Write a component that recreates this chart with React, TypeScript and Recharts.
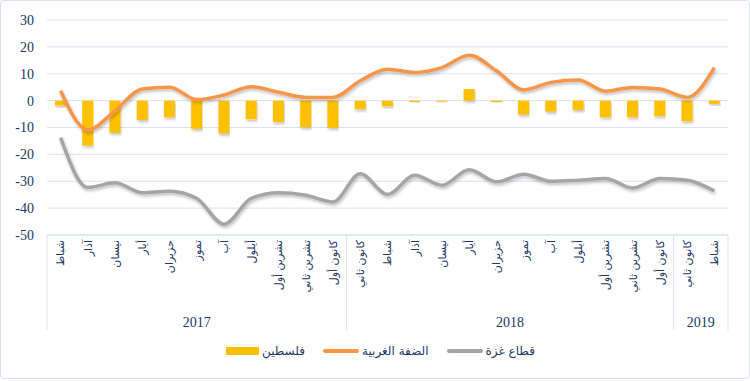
import React from "react";
import {
  ComposedChart,
  Bar,
  Line,
  XAxis,
  YAxis,
  CartesianGrid,
} from "recharts";

// month labels (Feb 2017 .. Feb 2019)
const months = [
  "شباط", "آذار", "نيسان", "أيار", "حزيران", "تموز", "آب", "أيلول",
  "تشرين أول", "تشرين ثاني", "كانون أول",
  "كانون ثاني", "شباط", "آذار", "نيسان", "أيار", "حزيران", "تموز", "آب",
  "أيلول", "تشرين أول", "تشرين ثاني", "كانون أول",
  "كانون ثاني", "شباط",
];

const years = [
  { label: "2017", count: 11 },
  { label: "2018", count: 12 },
  { label: "2019", count: 2 },
];

const palestine = [
  -1.8, -16.7, -12, -7.2, -6.2, -10.5, -12.3, -6.9, -8, -9.9, -10.1,
  -3.2, -2.1, -0.5, -0.4, 4.3, -0.5, -5.2, -4.1, -3.5, -6.2, -6.2, -5.8,
  -7.7, -1.2,
];

const westBank = [
  3.7, -10.9, -3.7, 4.3, 5, 0.4, 2.1, 5.2, 3.1, 1.2, 1.2,
  7.4, 11.7, 10.5, 12.3, 16.9, 11.1, 4, 6.8, 7.7, 3.5, 4.9, 4.3,
  1.2, 12.3,
];

const gaza = [
  -13.8, -32.3, -30.6, -34.3, -33.7, -36.4, -46, -36.4, -34.3, -35.2, -37.7,
  -27.2, -34.9, -27.8, -31.5, -25.7, -30.2, -27.4, -30, -29.6, -29, -32.5, -29,
  -29.6, -33.6,
];

const yTicks = [-50, -40, -30, -20, -10, 0, 10, 20, 30];

const series = [
  { key: "palestine", name: "فلسطين", color: "#FFC000", kind: "bar" },
  { key: "westBank", name: "الضفة الغربية", color: "#F79646", kind: "line" },
  { key: "gaza", name: "قطاع غزة", color: "#A5A5A5", kind: "line" },
];

const data = months.map((m, i) => ({
  month: m,
  palestine: palestine[i],
  westBank: westBank[i],
  gaza: gaza[i],
}));

const W = 750;
const H = 381;
const LEFT = 47;
const RIGHT = 22;
const PLOT_W = W - LEFT - RIGHT;
const BAND = PLOT_W / months.length;
const TEXT = "#203864";
const GRID = "#d9e3f1";

// index where each year group starts
const groupStarts: Record<number, { label: string; count: number }> = {};
let acc = 0;
years.forEach((y) => {
  groupStarts[acc] = y;
  acc += y.count;
});

const MonthTick = (props: any) => {
  const { x, y, payload, index } = props;
  const top = y - 5;
  const group = groupStarts[index];
  const left = x - BAND / 2;
  return (
    <g>
      <text
        x={x}
        y={y}
        transform={`rotate(-90, ${x}, ${y})`}
        textAnchor="end"
        dy="0.35em"
        fill={TEXT}
        fontSize={11}
        fontFamily="DejaVu Sans, sans-serif"
      >
        {payload.value}
      </text>
      {group && (
        <>
          <line x1={left} x2={left} y1={top} y2={top + 95} stroke={GRID} />
          <text
            x={left + (group.count * BAND) / 2}
            y={top + 92}
            textAnchor="middle"
            fill={TEXT}
            fontSize={14}
            fontFamily="Liberation Serif, serif"
          >
            {group.label}
          </text>
        </>
      )}
      {index === months.length - 1 && (
        <line x1={x + BAND / 2} x2={x + BAND / 2} y1={top} y2={top + 95} stroke={GRID} />
      )}
    </g>
  );
};

const LegendBox = () => (
  <div
    style={{
      position: "absolute",
      top: 343,
      left: 225,
      display: "flex",
      alignItems: "center",
      fontFamily: "DejaVu Sans, sans-serif",
      fontSize: 12,
      color: TEXT,
    }}
  >
    {series.map((s) => (
      <div key={s.key} style={{ display: "flex", alignItems: "center", marginRight: 18 }}>
        <div
          style={{
            width: s.kind === "bar" ? 33 : 36,
            height: s.kind === "bar" ? 8 : 4,
            borderRadius: s.kind === "bar" ? 0 : 2,
            background: s.color,
            marginRight: 3,
          }}
        />
        <span>{s.name}</span>
      </div>
    ))}
  </div>
);

export default function App() {
  return (
    <div
      style={{
        position: "absolute",
        left: 0,
        top: 0,
        width: W - 2,
        height: H - 4,
        border: "1px solid #d6e0ef",
        borderRadius: 4,
        background: "#fff",
        overflow: "hidden",
      }}
    >
      <ComposedChart
        width={W}
        height={H}
        data={data}
        margin={{ top: 20, right: RIGHT, left: 0, bottom: 0 }}
        style={{ position: "absolute", left: -1, top: -1 }}
      >
        <defs>
          <filter id="shadow" x="-5%" y="-20%" width="110%" height="160%">
            <feDropShadow dx="1" dy="2" stdDeviation="1.5" floodColor="#000" floodOpacity="0.25" />
          </filter>
        </defs>
        <CartesianGrid vertical={false} stroke={GRID} />
        <XAxis
          dataKey="month"
          interval={0}
          tickLine={false}
          tickSize={0}
          tickMargin={5}
          height={146}
          axisLine={{ stroke: GRID }}
          tick={<MonthTick />}
        />
        <YAxis
          width={LEFT}
          domain={[-50, 30]}
          ticks={yTicks}
          tickLine={false}
          axisLine={false}
          tickSize={0}
          tickMargin={13}
          tick={{ fill: TEXT, fontSize: 14, fontFamily: "Liberation Serif, serif" }}
        />
        <Bar
          dataKey="palestine"
          name={series[0].name}
          fill={series[0].color}
          barSize={11}
          isAnimationActive={false}
          style={{ filter: "url(#shadow)" }}
        />
        <Line
          dataKey="westBank"
          name={series[1].name}
          type="monotone"
          stroke={series[1].color}
          strokeWidth={3.5}
          dot={false}
          isAnimationActive={false}
          style={{ filter: "url(#shadow)" }}
        />
        <Line
          dataKey="gaza"
          name={series[2].name}
          type="monotone"
          stroke={series[2].color}
          strokeWidth={3.5}
          dot={false}
          isAnimationActive={false}
          style={{ filter: "url(#shadow)" }}
        />
      </ComposedChart>
      <LegendBox />
    </div>
  );
}
